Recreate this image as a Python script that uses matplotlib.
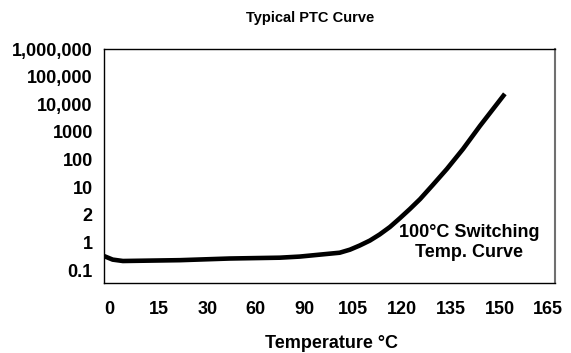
import matplotlib
matplotlib.use("Agg")
import matplotlib.pyplot as plt

# Axis categories (evenly spaced on the chart)
temp_labels = ['0', '15', '30', '60', '90', '105', '120', '135', '150', '165']
res_labels = ['0.1', '1', '2', '10', '100', '1000', '10,000', '100,000', '1,000,000']

# Curve, in category-slot units
curve_x = [-0.12, 0.06, 0.27, 1.44, 2.46, 3.49, 3.90, 4.31, 4.72, 4.93, 5.13, 5.34, 5.54,
           5.75, 5.95, 6.16, 6.37, 6.63, 6.92, 7.25, 7.60, 8.11]
curve_y = [0.51, 0.38, 0.33, 0.36, 0.42, 0.45, 0.49, 0.56, 0.63, 0.74, 0.89, 1.07, 1.29,
           1.56, 1.87, 2.21, 2.57, 3.08, 3.66, 4.38, 5.22, 6.38]

plt.rcParams['font.family'] = ['Liberation Sans', 'DejaVu Sans']
plt.rcParams['font.weight'] = 'bold'

fig = plt.figure(figsize=(5.71, 3.53), dpi=100)
ax = fig.add_axes([0.182, 0.198, 0.790, 0.663])

ax.plot(curve_x, curve_y, color='black', lw=3.3, solid_capstyle='butt', solid_joinstyle='round')

ax.set_xlim(-0.12, 9.14)
ax.set_ylim(-0.47, 8.0)
ax.set_xticks(range(len(temp_labels)))
ax.set_xticklabels(temp_labels)
ax.set_yticks(range(len(res_labels)))
ax.set_yticklabels(res_labels)
ax.tick_params(length=0, labelsize=13)
ax.tick_params(axis='x', pad=13)
ax.tick_params(axis='y', pad=8)

for side in ['left', 'bottom', 'top']:
    ax.spines[side].set_color('black')
    ax.spines[side].set_linewidth(1.0)
ax.spines['right'].set_color('#707070')
ax.spines['right'].set_linewidth(1.5)

ax.text(7.37, 1.0, '100\u00b0C Switching\nTemp. Curve', ha='center', va='center',
        fontsize=13, fontweight='bold', multialignment='center', linespacing=1.25)

fig.text(0.543, 0.949, 'Typical PTC Curve', ha='center', va='center', fontsize=10.5, fontweight='bold')
fig.text(0.580, 0.028, 'Temperature \u00b0C', ha='center', va='center', fontsize=13, fontweight='bold')

fig.savefig('out.png', dpi=100)
